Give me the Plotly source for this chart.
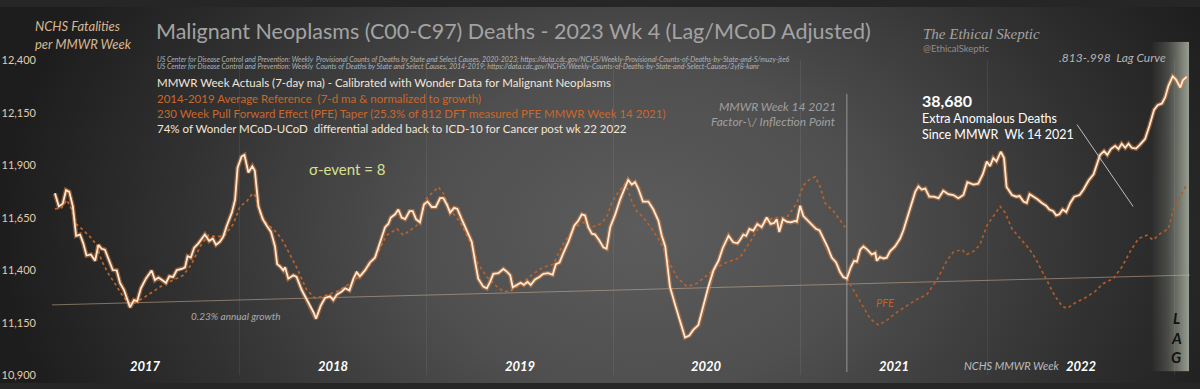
import base64
import plotly.graph_objects as go

# ---------------- data (week index: 0 = MMWR 2017 wk 1) ----------------
act_wk = [0.8,1.9,3.0,3.9,4.8,5.8,6.7,7.8,8.7,9.6,
          10.8,12.0,12.9,13.8,14.7,15.7,16.9,18.0,18.9,20.0,
          20.9,21.7,22.8,23.7,24.7,26.1,27.7,28.6,29.6,31.7,
          32.6,33.7,34.7,36.1,37.0,37.7,38.6,39.5,40.7,42.5,
          43.7,44.7,45.6,46.7,47.6,48.6,50.0,50.9,51.6,52.7,
          53.5,54.6,55.7,56.4,57.4,58.6,59.7,60.9,62.0,62.6,
          63.4,64.3,64.8,65.7,67.1,68.0,69.4,71.3,72.7,73.4,
          74.7,75.9,77.3,78.2,79.2,80.6,81.5,82.7,83.8,84.7,
          85.6,87.0,88.4,89.8,91.2,92.6,93.5,94.2,95.4,96.3,
          97.2,98.2,99.4,100.3,101.2,102.3,103.4,104.4,105.6,106.7,
          107.9,108.8,109.8,110.7,111.8,112.7,113.9,115.3,116.7,117.6,
          118.5,119.9,120.9,121.8,122.7,124.1,125.5,126.6,127.4,128.1,
          129.2,130.3,131.2,132.2,133.1,134.3,135.5,136.6,138.0,139.2,
          140.1,141.1,142.2,143.6,145.2,146.3,147.3,148.2,149.1,150.1,
          151.0,152.1,153.3,154.2,155.2,156.6,157.9,159.1,160.2,161.2,
          162.1,163.0,164.3,165.8,167.2,168.6,169.5,170.5,171.8,173.2,
          174.6,176.0,177.2,178.3,179.7,181.1,182.5,183.9,185.3,186.5,
          188.1,189.4,190.6,191.3,192.2,193.0,193.9,195.0,196.1,197.3,
          198.7,199.8,200.8,201.5,202.2,203.2,204.3,205.4,206.6,207.1,
          208.0,208.9,210.3,211.5,212.4,213.4,214.5,215.6,216.8,218.0,
          219.1,220.0,221.0,222.1,223.0,223.8,224.7,225.6,226.7,227.9,
          228.9,229.3,230.2,231.2,232.1,233.0,234.4,235.8,236.7,237.7,
          239.1,240.0,240.9,241.8,242.8,243.9,245.1,246.5,247.8,249.2,
          250.6,252.0,253.4,254.5,256.2,257.5,258.8,259.9,260.8,261.7,
          262.6,263.8,264.7,265.4,266.9,268.1,269.0,270.1,271.0,271.8,
          272.9,274.0,275.2,276.4,277.3,278.4,279.2,280.1,281.0,282.0,
          283.1,284.2,285.7,286.8,288.2,289.6,290.5,291.4,292.5,293.4,
          294.4,295.6,296.5,297.4,298.4,299.3,300.2,301.4,302.5,303.9,
          305.1,306.4,307.4,308.6,309.5,310.4,311.6,312.5,313.7,314.4,
          315.5]
act_val = [11766,11704,11717,11781,11773,11704,11564,11570,11528,11470,
           11475,11445,11521,11502,11498,11452,11401,11399,11340,11307,
           11261,11223,11258,11253,11314,11360,11399,11353,11365,11340,
           11371,11368,11401,11406,11414,11467,11460,11506,11528,11570,
           11539,11551,11521,11536,11559,11612,11674,11735,11888,11941,
           11949,11865,11895,11873,11704,11643,11612,11582,11513,11429,
           11418,11399,11414,11360,11376,11368,11307,11245,11200,11169,
           11230,11268,11276,11258,11284,11299,11314,11304,11360,11391,
           11371,11399,11437,11460,11528,11605,11620,11651,11666,11689,
           11651,11643,11681,11681,11643,11628,11712,11727,11701,11701,
           11743,11743,11712,11674,11697,11692,11643,11589,11536,11445,
           11360,11322,11314,11345,11383,11386,11406,11391,11376,11319,
           11330,11340,11330,11345,11330,11356,11368,11383,11386,11378,
           11429,11437,11483,11536,11612,11635,11666,11661,11605,11574,
           11570,11544,11509,11502,11605,11666,11735,11789,11830,11808,
           11819,11789,11727,11727,11689,11635,11567,11513,11322,11238,
           11154,11080,11089,11116,11139,11230,11322,11399,11445,11506,
           11564,11533,11528,11544,11570,11564,11597,11589,11620,11605,
           11651,11620,11625,11643,11582,11643,11631,11628,11635,11631,
           11707,11658,11635,11616,11597,11589,11551,11513,11460,11437,
           11391,11368,11360,11414,11445,11441,11498,11513,11498,11475,
           11483,11445,11463,11456,11460,11490,11513,11551,11589,11643,
           11727,11773,11799,11784,11789,11750,11750,11743,11778,11762,
           11758,11743,11758,11819,11808,11812,11857,11918,11895,11934,
           11918,11964,11934,11796,11758,11750,11753,11727,11720,11762,
           11750,11738,11720,11707,11689,11681,11661,11666,11689,11677,
           11720,11750,11758,11784,11827,11857,11903,11949,11967,11949,
           11977,11992,11977,12002,11983,12002,11983,11979,11998,12025,
           12087,12163,12186,12194,12224,12278,12323,12308,12270,12304,
           12321]

ref_wk = [0.8,2.7,4.1,5.5,6.7,8.3,10.6,12.4,13.8,15.7,
          17.5,19.4,21.2,23.1,25.4,28.2,30.9,33.7,36.5,38.8,
          41.2,43.5,45.8,48.1,50.4,52.3,54.1,55.8,56.7,57.8,
          59.7,61.5,62.9,64.3,68.0,70.8,73.1,75.4,79.2,82.9,
          86.6,90.3,93.1,95.9,97.7,99.5,101.9,103.7,105.6,107.4,
          108.8,110.7,113.5,116.2,118.5,120.9,123.7,125.5,127.4,130.1,
          133.8,136.6,139.4,142.2,145.0,147.7,150.1,152.4,154.2,155.6,
          157.5,159.3,160.2,161.2,162.6,164.4,166.8,169.1,171.4,173.7,
          176.5,179.3,182.1,184.8,187.6,191.3,194.1,196.9,200.6,204.3,
          207.1,208.9,210.8,212.2,213.6,214.9,217.3,219.1,220.5]
ref_val = [11692,11697,11735,11689,11620,11597,11559,11521,11445,11383,
           11337,11284,11245,11245,11268,11299,11330,11353,11376,11429,
           11513,11567,11559,11567,11620,11704,11727,11766,11750,11674,
           11620,11597,11570,11536,11414,11307,11268,11276,11299,11337,
           11383,11475,11567,11597,11567,11589,11620,11735,11766,11796,
           11766,11689,11628,11536,11429,11368,11322,11299,11299,11330,
           11383,11414,11429,11528,11597,11628,11605,11620,11651,11720,
           11773,11811,11781,11727,11681,11651,11597,11536,11445,11368,
           11322,11337,11376,11414,11437,11460,11536,11612,11651,11651,
           11720,11804,11834,11845,11796,11720,11681,11635,11605]

pfe_wk = [221.0,222.8,225.2,227.5,229.8,232.1,234.9,237.7,240.4,243.2,
          246.0,248.8,250.6,253.0,254.3,256.2,258.0,259.9,261.7,263.6,
          265.0,266.9,269.2,271.5,273.3,275.2,277.0,278.9,280.8,282.2,
          284.5,287.2,290.0,292.3,295.1,297.4,299.8,302.1,304.4,306.1,
          308.1,310.4,311.8,313.7,315.5]
pfe_val = [11360,11307,11230,11169,11139,11162,11200,11230,11261,11284,
           11353,11445,11487,11498,11475,11490,11521,11612,11658,11704,
           11674,11597,11551,11506,11460,11399,11337,11276,11230,11218,
           11245,11268,11299,11337,11360,11414,11490,11551,11567,11544,
           11574,11597,11689,11750,11808]

base_wk = [0, 316.4]
base_val = [11235, 11377]

years = ["2017", "2018", "2019", "2020", "2021", "2022"]
weeks_per_year = 52
year_start_wk = [i * weeks_per_year for i in range(len(years) + 1)]
year_mid_wk = [i * weeks_per_year + weeks_per_year / 2 for i in range(len(years))]
y_ticks = [10900, 11150, 11400, 11650, 11900, 12150, 12400]
inflection_wk = 4 * weeks_per_year + 13       # MMWR week 14 2021
pointer_wk = [285.0, 300.6]
pointer_val = [12093, 11703]

# ---------------- figure ----------------
W, H = 1200, 389
FONT = "Lato"

def px(x):
    return x / W

def py(y):
    return 1 - y / H

bg_svg = (
    '<svg xmlns="http://www.w3.org/2000/svg" width="1200" height="389" viewBox="0 0 1200 389" preserveAspectRatio="none">'
    '<defs><radialGradient id="g" gradientUnits="userSpaceOnUse" cx="640" cy="230" r="640" '
    'gradientTransform="translate(640 230) scale(1 0.75) translate(-640 -230)">'
    '<stop offset="0" stop-color="#5c5c5c"/><stop offset="0.35" stop-color="#4f4f4f"/>'
    '<stop offset="0.72" stop-color="#313131"/><stop offset="1" stop-color="#1d1d1d"/>'
    '</radialGradient></defs><rect width="1200" height="389" fill="url(#g)"/></svg>'
)
lag_svg = (
    '<svg xmlns="http://www.w3.org/2000/svg" width="40" height="340" viewBox="0 0 40 340" preserveAspectRatio="none">'
    '<defs><linearGradient id="l" x1="0" y1="0" x2="1" y2="0">'
    '<stop offset="0" stop-color="#9aa092" stop-opacity="0"/>'
    '<stop offset="0.45" stop-color="#9aa092" stop-opacity="0.3"/>'
    '<stop offset="1" stop-color="#a2a89a" stop-opacity="0.92"/>'
    '</linearGradient></defs><rect width="40" height="340" fill="url(#l)"/></svg>'
)

def uri(svg):
    return "data:image/svg+xml;base64," + base64.b64encode(svg.encode()).decode()

fig = go.Figure()

fig.add_trace(go.Scatter(x=base_wk, y=base_val, mode="lines",
                         line=dict(color="rgba(205,175,145,0.55)", width=1), hoverinfo="skip"))
fig.add_trace(go.Scatter(x=ref_wk, y=ref_val, mode="lines",
                         line=dict(color="#b9622a", width=1.7, dash="dot"), hoverinfo="skip"))
fig.add_trace(go.Scatter(x=pfe_wk, y=pfe_val, mode="lines",
                         line=dict(color="#b05c28", width=1.7, dash="dot"), hoverinfo="skip"))
fig.add_trace(go.Scatter(x=act_wk, y=act_val, mode="lines",
                         line=dict(color="rgba(225,130,60,0.5)", width=4.5), hoverinfo="skip"))
fig.add_trace(go.Scatter(x=act_wk, y=act_val, mode="lines",
                         line=dict(color="#fde8d4", width=1.8)))

x0, x1 = 52, 1190
y_top, y_bot = 55, 381

fig.update_layout(
    width=W, height=H,
    margin=dict(l=0, r=0, t=0, b=0),
    paper_bgcolor="#262626", plot_bgcolor="rgba(0,0,0,0)",
    showlegend=False,
    xaxis=dict(domain=[px(x0), px(x1)], range=[0, base_wk[1]],
               showticklabels=False, ticks="", showgrid=False,
               zeroline=False, showline=False,
               minor=dict(tickvals=year_start_wk, showgrid=True,
                          gridcolor="rgba(255,255,255,0.07)", gridwidth=1, ticks="")),
    yaxis=dict(domain=[py(y_bot), py(y_top)], range=[y_ticks[0], y_ticks[-1]],
               tickvals=y_ticks, tickformat=",", showgrid=False, zeroline=False, showline=False,
               ticks="", ticklabelstandoff=15,
               tickfont=dict(family=FONT, size=11, color="#e3cbab")),
    images=[
        dict(source=uri(bg_svg), xref="paper", yref="paper", x=0, y=1, sizex=1, sizey=1,
             sizing="stretch", layer="below", xanchor="left", yanchor="top"),
        dict(source=uri(lag_svg), xref="paper", yref="paper", x=px(1151), y=py(36),
             sizex=px(38), sizey=341 / H, sizing="stretch", layer="below",
             xanchor="left", yanchor="top"),
    ],
)

fig.add_shape(type="line", xref="x", yref="y", x0=inflection_wk, x1=inflection_wk,
              y0=10915, y1=12240, line=dict(color="rgba(215,215,215,0.55)", width=1))
fig.add_shape(type="line", xref="x", yref="y", x0=pointer_wk[0], x1=pointer_wk[1],
              y0=pointer_val[0], y1=pointer_val[1], line=dict(color="rgba(225,225,225,0.8)", width=1))

for wk, yr in zip(year_mid_wk, years):
    fig.add_annotation(text=yr, xref="x", yref="paper", x=wk, y=py(371),
                       xanchor="center", yanchor="middle", showarrow=False,
                       font=dict(family=FONT, size=13, color="#ffffff", weight="bold", style="italic"))

def note(text, x, y, size, color, xanchor="left", italic=False, bold=False, family=FONT):
    fig.add_annotation(text=text, xref="paper", yref="paper", x=px(x), y=py(y),
                       xanchor=xanchor, yanchor="middle", showarrow=False,
                       font=dict(family=family, size=size, color=color,
                                 style="italic" if italic else "normal",
                                 weight="bold" if bold else "normal"))

note("NCHS Fatalities", 33, 20, 13, "#d8b792", italic=True)
note("per MMWR Week", 33, 38, 13, "#d8b792", italic=True)
note("Malignant Neoplasms (C00-C97) Deaths - 2023 Wk 4 (Lag/MCoD Adjusted)", 154, 25, 21.5, "#a3a3a3")
note("US Center for Disease Control and Prevention: Weekly  Provisional Counts of Deaths by State and Select Causes, 2020-2023; "
     "https://data.cdc.gov/NCHS/Weekly-Provisional-Counts-of-Deaths-by-State-and-S/muzy-jte6",
     155, 54, 7, "#b3b3b3", italic=True)
note("US Center for Disease Control and Prevention: Weekly  Counts of Deaths by State and Select Causes, 2014-2019; "
     "https://data.cdc.gov/NCHS/Weekly-Counts-of-Deaths-by-State-and-Select-Causes/3yf8-kanr",
     155, 62, 7, "#b3b3b3", italic=True)
note("MMWR Week Actuals (7-day ma) - Calibrated with Wonder Data for Malignant Neoplasms", 155, 78, 11.5, "#f3e6d8")
note("2014-2019 Average Reference  (7-d ma &amp; normalized to growth)", 155, 95, 11.5, "#c9682c")
note("230 Week Pull Forward Effect (PFE) Taper (25.3% of 812 DFT measured PFE MMWR Week 14 2021)", 155, 110, 11.5, "#c9682c")
note("74% of Wonder MCoD-UCoD  differential added back to ICD-10 for Cancer post wk 22 2022", 155, 126, 11.5, "#f3e6d8")
note("σ-event = 8", 307, 168, 15, "#d8e08e")
note("MMWR Week 14 2021", 838, 103, 12, "#a0a0a0", xanchor="right", italic=True)
note("Factor-\\/ Inflection Point", 838, 118, 12, "#a0a0a0", xanchor="right", italic=True)
note("The Ethical Skeptic", 921, 28, 15, "#a3a3a3", italic=True, family="Liberation Serif")
note("@EthicalSkeptic", 921, 43, 9.5, "#8e8e8e")
note(".813-.998  Lag Curve", 1168, 52, 12, "#b5b5b5", xanchor="right", italic=True)
note("38,680", 920, 97, 16, "#ffffff", bold=True)
note("Extra Anomalous Deaths", 920, 115, 12.5, "#ffffff")
note("Since MMWR  Wk 14 2021", 920, 132, 12.5, "#ffffff")
note("0.23% annual growth", 189, 320, 10, "#ababab", italic=True)
note("PFE", 874, 306, 11, "#c0622a", italic=True)
note("NCHS MMWR Week", 962, 371, 11, "#bdbdbd", italic=True)
for i, ch in enumerate("LAG"):
    note(ch, 1176, 322 + 20 * i, 15, "#111111", xanchor="center", italic=True, bold=True)

post = """
var s = document.documentElement.style; s.margin='0'; s.padding='0'; s.overflow='hidden';
var b = document.body.style; b.margin='0'; b.padding='0'; b.overflow='hidden';
var gd = document.getElementById('{plot_id}');
gd.style.position='fixed'; gd.style.left='0px'; gd.style.top='0px';
"""
fig.write_html("out.html", config={"responsive": False, "displayModeBar": False}, post_script=post)
